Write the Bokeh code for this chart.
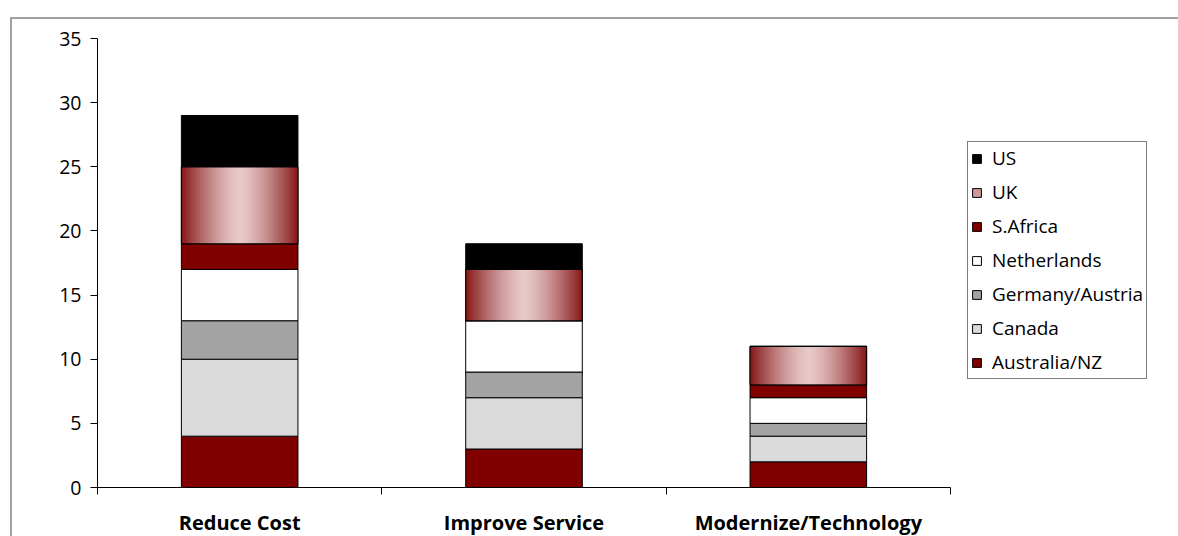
import numpy as np
from bokeh.plotting import figure
from bokeh.models import (Range1d, FixedTicker, Legend, LegendItem, ColumnDataSource)
from bokeh.embed import file_html
from bokeh.resources import INLINE

categories = ["Reduce Cost", "Improve Service", "Modernize/Technology"]
series_names = ["Australia/NZ", "Canada", "Germany/Austria", "Netherlands", "S.Africa", "UK", "US"]
australia_nz = [4, 3, 2]
canada = [6, 4, 2]
germany_austria = [3, 2, 1]
netherlands = [4, 4, 2]
s_africa = [2, 0, 1]
uk = [6, 4, 3]
us = [4, 2, 0]
y_ticks = [0, 5, 10, 15, 20, 25, 30, 35]

series_values = [australia_nz, canada, germany_austria, netherlands, s_africa, uk, us]
colors = ["#800000", "#dadada", "#a3a3a3", "#ffffff", "#800000", None, "#000000"]

FONT = "Open Sans"
BAR_W = 0.41

ncat = len(categories)
centers = [i + 0.5 for i in range(ncat)]

p = figure(x_range=Range1d(0, ncat), y_range=Range1d(0, 35),
           frame_width=853, frame_height=449,
           min_border_left=85, min_border_right=228, min_border_top=19, min_border_bottom=49,
           output_backend="svg", toolbar_location=None,
           background_fill_color="white", border_fill_color="white")
p.styles = {"margin-left": "10px", "margin-top": "17px",
            "border-left": "2px solid #a2a2a2", "border-top": "2px solid #a2a2a2"}
p.outline_line_color = None
p.xgrid.visible = False
p.ygrid.visible = False

# y axis
ya = p.yaxis[0]
ya.ticker = FixedTicker(ticks=y_ticks)
ya.major_tick_out = 7
ya.major_tick_in = 0
ya.minor_tick_line_color = None
ya.axis_line_color = "black"
ya.major_tick_line_color = "black"
ya.major_label_text_font = FONT
ya.major_label_text_font_size = "19.5px"
ya.major_label_text_color = "black"
ya.major_label_standoff = 9

# x axis: labels at category centres, separator ticks at boundaries
xa = p.xaxis[0]
xa.ticker = FixedTicker(ticks=centers, minor_ticks=list(range(ncat + 1)))
xa.major_label_overrides = {c: name for c, name in zip(centers, categories)}
xa.major_tick_line_color = None
xa.major_tick_out = 0
xa.major_tick_in = 0
xa.minor_tick_line_color = "black"
xa.minor_tick_out = 7
xa.minor_tick_in = 0
xa.axis_line_color = "black"
xa.major_label_text_font = FONT
xa.major_label_text_font_style = "bold"
xa.major_label_text_font_size = "20px"
xa.major_label_text_color = "black"
xa.major_label_standoff = 14

renderers = {}
bottom = np.zeros(ncat)
for name, vals, col in zip(series_names, series_values, colors):
    vals = np.array(vals, dtype=float)
    top = bottom + vals
    src = ColumnDataSource(dict(x=centers, bottom=bottom.copy(), top=top.copy()))
    if name == "UK":
        r = p.vbar(x="x", bottom="bottom", top="top", width=BAR_W, source=src,
                   fill_color="#c99a9a", line_color="black", line_width=1)
        renderers[name] = r
        n = 80
        w = BAR_W / n
        ls, rs, bs, ts, cs = [], [], [], [], []
        edge = np.array([0x85, 0x18, 0x18])
        center = np.array([0xe8, 0xc9, 0xc9])
        for i in range(ncat):
            x0 = centers[i] - BAR_W / 2
            for k in range(n):
                u = -1 + (2 * k + 1) / n
                t = abs(u) ** 1.4
                c = center + (edge - center) * t
                ls.append(x0 + k * w)
                rs.append(min(x0 + (k + 1.8) * w, x0 + BAR_W))
                bs.append(bottom[i])
                ts.append(top[i])
                cs.append("#%02x%02x%02x" % tuple(int(round(v)) for v in c))
        p.quad(left=ls, right=rs, bottom=bs, top=ts, fill_color=cs, line_color=None)
        p.vbar(x="x", bottom="bottom", top="top", width=BAR_W, source=src,
               fill_color=None, line_color="black", line_width=1)
    else:
        r = p.vbar(x="x", bottom="bottom", top="top", width=BAR_W, source=src,
                   fill_color=col, line_color="black", line_width=1)
        renderers[name] = r
    bottom = top

items = [LegendItem(label=n, renderers=[renderers[n]]) for n in reversed(series_names)]
legend = Legend(items=items, location=(17, 108))
legend.border_line_color = "black"
legend.border_line_width = 1
legend.background_fill_color = "white"
legend.background_fill_alpha = 1
legend.glyph_width = 11
legend.glyph_height = 11
legend.label_height = 20
legend.spacing = 8
legend.padding = 3
legend.margin = 0
legend.label_standoff = 10
legend.label_text_font = FONT
legend.label_text_font_size = "19px"
legend.label_text_color = "black"
p.add_layout(legend, "right")

open("out.html", "w").write(file_html(p, INLINE))
